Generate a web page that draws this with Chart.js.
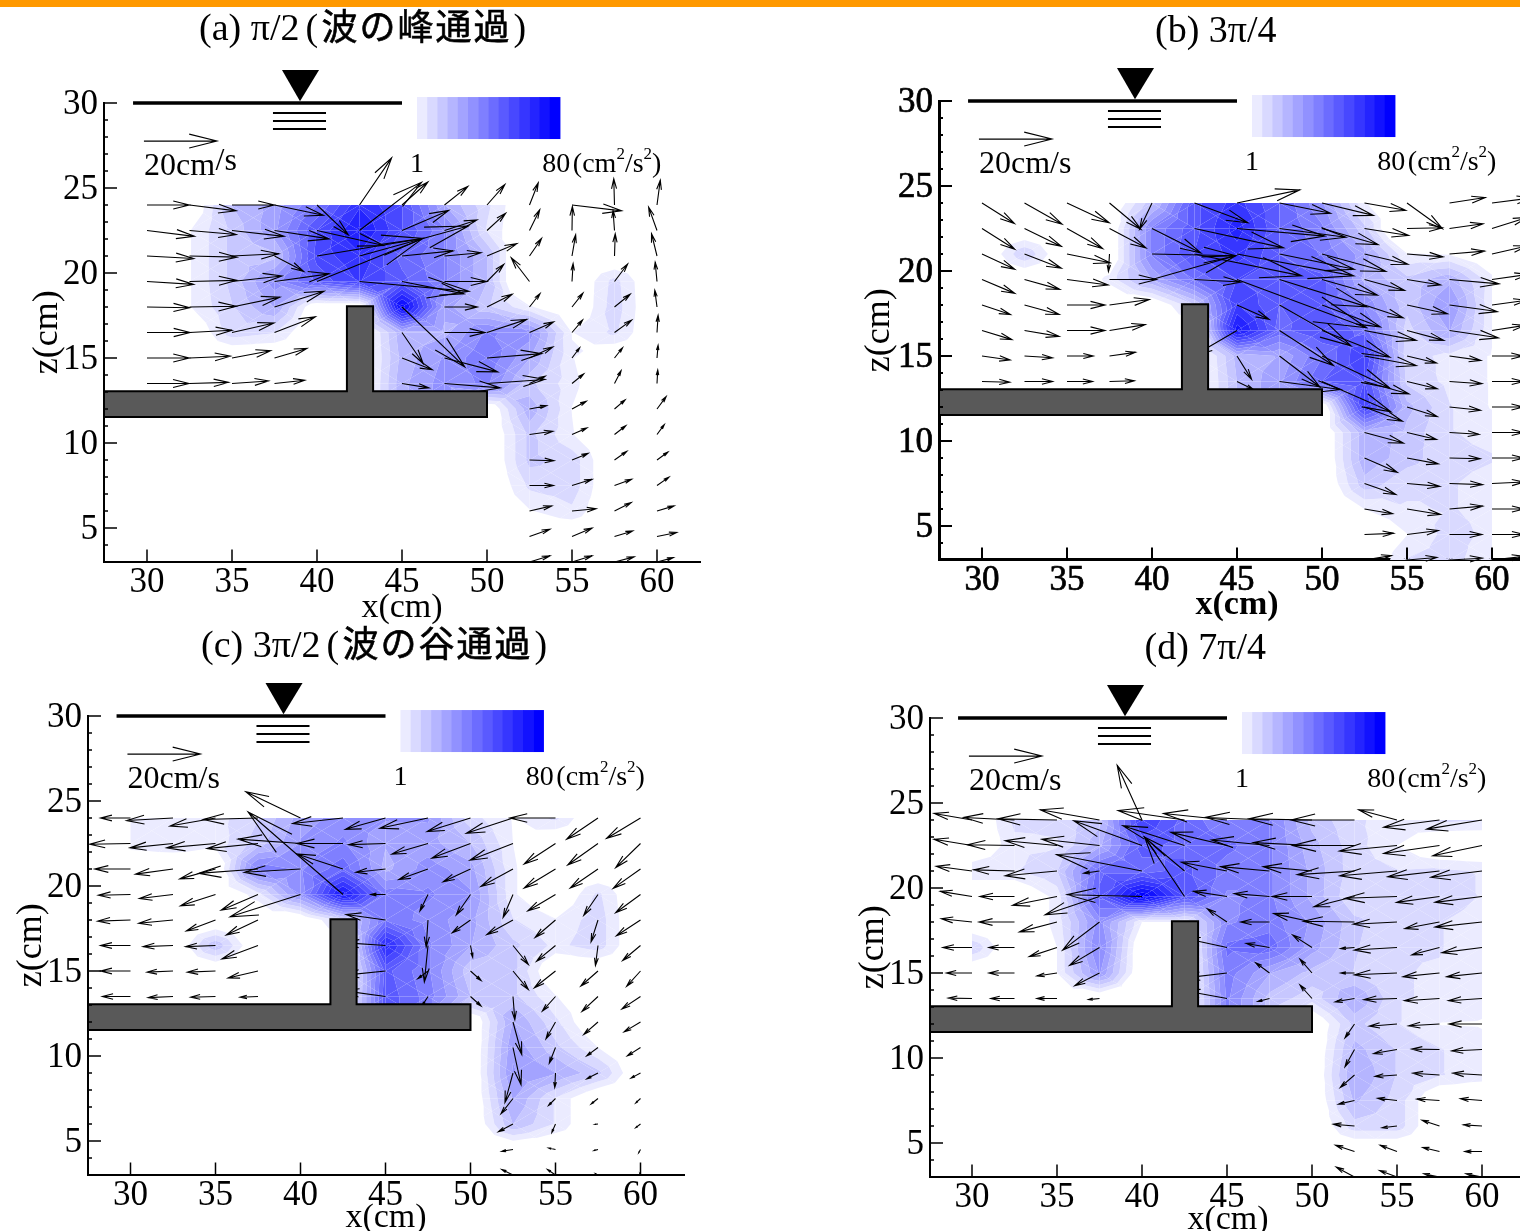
<!DOCTYPE html>
<html>
<head>
<meta charset="utf-8">
<style>
  html, body { margin: 0; padding: 0; background: #fff; overflow: hidden; width: 1520px; height: 1231px; }
  #bar { position: absolute; left: 0; top: 0; width: 1520px; height: 7px; background: #ff9900; }
  canvas { position: absolute; }
</style>
<script src="https://cdn.jsdelivr.net/npm/chart.js"></script>
</head>
<body>
<div id="bar"></div>
<script>
const _ = null;
const xCols = [30, 32.5, 35, 37.5, 40, 42.5, 45, 47.5, 50, 52.5, 55, 57.5, 60];
const zRows = [24, 22.5, 21, 19.5, 18, 16.5, 15, 13.5, 12, 10.5, 9, 7.5, 6, 4.5, 3];
const xTicks = [30, 35, 40, 45, 50, 55, 60];
const zTicks = [5, 10, 15, 20, 25, 30];
const kLevels = [1, 6.6, 12.3, 17.9, 23.6, 29.2, 34.9, 40.5, 46.1, 51.8, 57.4, 63, 68.7, 74.4, 80];
const kShades = [235, 217, 199, 181, 163, 145, 127, 108, 90, 72, 54, 36, 18, 0];
const emptyK = -8; // nodes read as 0 sit under the lowest level, edge falls inside the cell
const vScale = 0.2147; // cm on the plot per cm/s, 20 cm/s arrow is 73px

// (a) turbulence energy, rows top to bottom (z=24..3), columns x=30..60
// a few negatives are only there to pull a tight contour edge back into its cell
const kA = [
  [0, 0, 18, 26, 40, 62, 52, 24, 8, 0, 0, 0, 0],
  [0, 0.5, 14, 28, 52, 70, 52, 36, 6, 0, 0, 0, 0],
  [0, 0.5, 14, 16, 54, 62, 44, 36, 18, -20, 0, 0, 0],
  [0, 0.5, 14, 32, 48, 58, 48, 36, 18, -20, 0, 9, 0],
  [0, 0.5, 12, 24, 0, 0, 78, 26, 14, 2, 0, 10, 0],
  [0, 0, 10, 7, 0, 0, 22, 22, 36, 32, 0.8, 8, 0],
  [0, 0, 0, 0, 0, 0, 20, 30, 40, 24, 1.5, 0, 0],
  [0, 0, 0, 0, 0, 0, 22, 32, 36, 14, 3, 0, 0],
  [0, 0, 0, 0, 0, 0, 22, 32, 0, 22, 0.8, 0, 0],
  [_, _, _, _, _, _, _, _, 0, 14, 1.5, 0, 0],
  [_, _, _, _, _, _, _, _, 0, 14, 10, 0, 0],
  [_, _, _, _, _, _, _, _, 0, 8, 10, 0, 0],
  [_, _, _, _, _, _, _, _, 0, 0.5, 5.5, 0, 0],
  [_, _, _, _, _, _, _, _, 0, 0, 0, 0, 0],
  [_, _, _, _, _, _, _, _, 0, 0, 0, 0, 0]
];
const uA = [
  [11.6, 12.8, 11.6, 13.4, 8.6, 8.8, 7.1, 6.4, 4.9, 2.4, 13.6, -0.2, 0.9],
  [13, 12.8, 14.3, 15, 18.3, 17, 12.8, 8.9, 5.1, 2.8, 0.1, -0.4, -2.3],
  [12.8, 13, 12.8, 8, 29, 29.8, 14, 10, 8.2, 3.3, 1, 0.2, -1.5],
  [12.8, 13, 13.7, 15, 29, 30, 17, 11.6, 4.6, -5, 0.3, 3.6, -0.5],
  [11.7, 12.8, 13.1, 13.6, _, _, 17.2, 9, 6.9, 2.9, 3, 4.3, -0.6],
  [11.8, 11.6, 11.5, 11.2, _, _, 5.8, 11.1, 10.9, 6.6, 2.9, 4.7, 0.3],
  [11.6, 11.2, 10.6, 8.9, _, _, 8.3, 14.6, 15, 6.4, 2.1, 2.2, 0.3],
  [11.5, 10.7, 10, 8.3, _, _, 7.4, 15.3, 15.9, 4.3, 3.2, 1.8, 0.2],
  [_, _, _, _, _, _, _, _, _, 4.7, 3.9, 2.9, 2.5],
  [_, _, _, _, _, _, _, _, _, 6.4, 4.1, 3.1, 2],
  [_, _, _, _, _, _, _, _, _, 6.7, 4.4, 3.4, 3],
  [_, _, _, _, _, _, _, _, _, 6.6, 5.5, 4.7, 3.3],
  [_, _, _, _, _, _, _, _, _, 6.1, 6.6, 4.6, 4.7],
  [_, _, _, _, _, _, _, _, _, 5.6, 5.5, 5, 5.4],
  [_, _, _, _, _, _, _, _, _, 5.6, 5.5, 5.4, 4.5]
];
const wA = [
  [0, -1.6, 0, -2.8, -8.2, 12.9, 6.3, 5.1, 5.6, 6.1, -1.6, 7.2, 6.8],
  [-1.6, -1.1, -1.6, -2.3, -4.1, 13.2, 5.5, 2.9, 4.7, 5.7, 6.6, 5.5, 6.4],
  [-0.7, -0.3, 0.6, -4.2, 4.8, 8.2, 1.4, 0.9, 3.4, 4.8, 5.8, 6.1, 6.1],
  [-0.8, 0.3, 1.5, 2.1, 11.8, -2.7, -3.4, 0, 4.7, 6.5, 4.9, 4.8, 5.3],
  [-0.2, 0.2, 2.7, 4.3, _, _, -16.4, 0, 3.5, 3.7, 3.8, 3.5, 4.6],
  [0, 0.6, 2.6, 4.3, _, _, -8.5, 0, 3.6, 2.9, 3.4, 3.4, 4.7],
  [0, 0.5, 2, 2.6, _, _, -3.2, -3.8, 1.2, 3, 2.8, 2.8, 3.5],
  [0, 0.3, 0.7, 0.9, _, _, -1.2, -1.2, 1.1, 2, 2.6, 3.5, 3.7],
  [_, _, _, _, _, _, _, _, _, 0.9, 2.1, 2.5, 3.4],
  [_, _, _, _, _, _, _, _, _, 0.9, 1.8, 2.4, 2.7],
  [_, _, _, _, _, _, _, _, _, -0.2, 1.8, 2.4, 2.2],
  [_, _, _, _, _, _, _, _, _, 0, 1.7, 1.7, 2.3],
  [_, _, _, _, _, _, _, _, _, 1.4, 0.6, 2.3, 1.4],
  [_, _, _, _, _, _, _, _, _, 2, 2.3, 1.5, 1.1],
  [_, _, _, _, _, _, _, _, _, 1.7, 1.7, 1.4, 1.2]
];

// (b)
const kB = [
  [0, 0, 0, 0, 16, 50, 60, 46, 30, 2, 0, 0, 0],
  [0, 0, 0, 0, 36, 50, 66, 46, 36, 14, -20, 0, 0],
  [0, 12, 0, 0, 36, 52, 60, 46, 40, 26, 1.5, 0.5, 0],
  [0, 0, 0, 3, 24, 42, 52, 50, 48, 22, 14, 22, 3],
  [0, 0, 0, 0, 0, 12, 58, 46, 48, 34, 14, 30, 2],
  [0, 0, 0, 0, 0, 0, 72, 44, 52, 44, 10, 24, 2],
  [0, 0, 0, 0, 0, 0, 20, 24, 40, 58, 9, 5, 0.5],
  [0, 0, 0, 0, 0, 0, 18, 28, 46, 52, 11, 5, 0.5],
  [0, 0, 0, 0, 0, 0, 18, 28, 0, 58, 20, 7, 0.5],
  [_, _, _, _, _, _, _, _, 0, 22, 16, 7, 5],
  [_, _, _, _, _, _, _, _, 0, 22, 15, 8, 7],
  [_, _, _, _, _, _, _, _, 0, 16, 8, 7, 5],
  [_, _, _, _, _, _, _, _, 0, 1, 6, 7, 5],
  [_, _, _, _, _, _, _, _, 0, 0, 0.8, 9, 5],
  [_, _, _, _, _, _, _, _, 0, 0, 7, 9, 2]
];
const uB = [
  [8.9, 10.3, 11.6, 8.6, -3.4, 14.6, 17.2, 14, 14.1, 11.3, 9.7, 9.8, 11],
  [9, 10.1, 9.8, 10, 13.4, 24.4, 24.1, 18.2, 15.4, 12.1, 9.7, 9.2, 9.6],
  [9, 10.1, 11.8, -0.3, 22.9, 29.4, 32, 20.5, 17.5, 11.9, 9.9, 9.6, 9.6],
  [9, 9.7, 11.3, 12.9, 22.9, 12.7, 35.5, 24, 15.2, 11, 9.2, 13.6, 10],
  [7.8, 9.5, 10.4, 10.9, _, _, 8.8, 19.6, 16, 10.6, 11.1, 13.1, 9.5],
  [8.2, 9.5, 10.4, 9.8, _, _, -12, 14.8, 18.6, 14.2, 10.1, 13.4, 9],
  [7.7, 7.7, 7.2, 7.1, _, _, 4, 11.1, 18.6, 14.2, 8.1, 8.6, 8.5],
  [7.6, 7.7, 7, 6.8, _, _, 4.5, 16.8, 18.9, 12.2, 8.3, 8.9, 8.7],
  [_, _, _, _, _, _, _, _, _, 10.4, 8.3, 8.5, 8.6],
  [_, _, _, _, _, _, _, _, _, 10.7, 8.1, 8.1, 8.7],
  [_, _, _, _, _, _, _, _, _, 9, 8.6, 8.4, 8.8],
  [_, _, _, _, _, _, _, _, _, 8.6, 9, 9.1, 8.8],
  [_, _, _, _, _, _, _, _, _, 7.7, 9.2, 9.1, 8.8],
  [_, _, _, _, _, _, _, _, _, 8, 8.6, 8.9, 8.8],
  [_, _, _, _, _, _, _, _, _, 7.4, 8.2, 9, 8.8]
];
const wB = [
  [-5.6, -5.8, -5.4, -7.2, -7.2, -5.4, 3.6, -2.8, -3.4, -2, -7, 1.5, 1.4],
  [-5.7, -4.9, -5.5, -5.3, -6.7, -5.3, -2.1, -2.4, -4.4, -1.9, 0.2, 1.3, 3],
  [-4.2, -3.9, -2.4, -4.8, -0.5, -6, -6, -4.2, -4.8, -2.8, -0.8, 0.8, 2.2],
  [-3.8, -2.7, -1.5, 0, 6.5, -0.7, -13.2, -7.5, -4.3, -3, -1.5, -1.2, 1.4],
  [-2.6, -2.6, 0, 1.5, _, _, -3.9, -11.2, -6, -3.5, -2.4, -1.8, 1.3],
  [-2.5, -1.6, 0, 1.6, _, _, -7, -9.6, -7.3, -2.7, -2.7, -2, 1.4],
  [-1.1, -0.5, 0, 1, _, _, -6.4, -8.5, -8.8, -2.6, -1.9, -1.2, 0],
  [-0.2, 0, 0, 0.2, _, _, -2.2, -2.2, -8.3, -3.4, -2, -0.6, 0],
  [_, _, _, _, _, _, _, _, _, -3.9, -2.6, -0.9, 0],
  [_, _, _, _, _, _, _, _, _, -2.9, -1.9, -0.5, 0],
  [_, _, _, _, _, _, _, _, _, -3.9, -1.6, -0.2, 0],
  [_, _, _, _, _, _, _, _, _, -3, -0.8, -0.3, 0.4],
  [_, _, _, _, _, _, _, _, _, -1.3, -1.5, 0.8, 0],
  [_, _, _, _, _, _, _, _, _, 0.3, 1.1, 0, 0],
  [_, _, _, _, _, _, _, _, _, 1.2, 0.7, 0.5, 1]
];

// (c)
const kC = [
  [4, 4, 4, 12, 26, 32, 30, 30, 9, 0.5, 8, 0, 0],
  [4, 6, 3, 15, 30, 36, 24, 26, 18, 1, 0, 0, 0],
  [0, 0, 0, 38, 34, 44, 22, 32, 26, 2, 0, 0, 0],
  [0, 0, 0, 4, 32, 72, 38, 36, 30, 2, 0, 8, 0],
  [0, 0, 0, 0, 0, 10, 40, 32, 26, 7, 1.5, 10, 0],
  [0, 0, 17, 0, 0, 0, 66, 36, 24, 14, 5, 10, 0],
  [0, 0, 0, 0, 0, 0, 48, 36, 14, 14, 0, 0, 0],
  [0, 0, 0, 0, 0, 0, 50, 38, 18, 14, 1.5, 0, 0],
  [0, 0, 0, 0, 0, 0, 50, 38, 0, 24, 8, 0, 0],
  [_, _, _, _, _, _, _, _, 0, 28, 14, 1, 0],
  [_, _, _, _, _, _, _, _, 0, 30, 24, 14, 0],
  [_, _, _, _, _, _, _, _, 0, 24, 6, 0, 0],
  [_, _, _, _, _, _, _, _, 0, 18, 6, 0, 0],
  [_, _, _, _, _, _, _, _, 0, 0, 0, 0, 0],
  [_, _, _, _, _, _, _, _, 0, 0, 0, 0, 0]
];
const uC = [
  [-8.2, -12.7, -12.5, -15, -15, -13.8, -11, -13.2, -11.9, -12.8, -12.5, -8.6, -9.3],
  [-11.2, -11.8, -13.4, -14, -17.1, -12.6, -10.1, -9.9, -10.6, -11.8, -8.6, -8.3, -6.8],
  [-9.8, -10.3, -9.8, -16.3, -15.4, -12.6, -8.1, -8, -7.5, -8.8, -8.6, -7.6, -7.5],
  [-8.8, -9.2, -9.6, -10.1, -19.3, -26, -4, -2.2, -3.9, -2.7, -7.6, -3.9, -6.8],
  [-9, -9.4, -8, -8.7, _, _, -10.8, -0.5, -5, -7.2, -5.6, -1.9, -6.6],
  [-8.2, -8.2, -8.2, -9.9, _, _, -11.7, -1, 0.6, 4.2, -5.2, -0.7, -4.9],
  [-8.2, -7.1, -7.7, -8.2, _, _, -11.7, -2.8, 2.9, 4.2, -5.8, -4.7, -3.8],
  [-7.7, -6.8, -6.8, -4.9, _, _, -11.7, -1.6, 2.9, 0.5, -3.6, -4.4, -5.1],
  [_, _, _, _, _, _, _, _, _, 2.4, -2.6, -3.9, -4.5],
  [_, _, _, _, _, _, _, _, _, 2.2, -1.7, -3.1, -3.6],
  [_, _, _, _, _, _, _, _, _, -2.2, -0.2, -3.1, -2.6],
  [_, _, _, _, _, _, _, _, _, -3.3, -1.9, -1.9, -1.3],
  [_, _, _, _, _, _, _, _, _, -4, -1, -0.9, -1.3],
  [_, _, _, _, _, _, _, _, _, -3.1, -1.9, -1.1, -0.5],
  [_, _, _, _, _, _, _, _, _, -3.1, -2.2, -0.7, -0.2]
];
const wC = [
  [0, -0.7, -2.2, -0.4, 7.2, -1.5, -3.1, -2.8, -3.7, -4.2, 0, -5.8, -5.6],
  [-0.2, -1.2, -1.2, -1.4, 1.2, 0, -0.3, -2.9, -4, -4.6, -5.6, -5.9, -6.6],
  [0, -1.4, -2.7, -1.2, -0.9, 4.1, -0.9, -2.9, -3.5, -4.8, -5.2, -5.2, -5.3],
  [-0.2, -1.1, -3.1, -4.3, -6.1, 22.6, 0, -4.5, -5.6, -6.3, -4.5, -5.7, -5],
  [-0.3, -0.9, -3, -4.1, _, _, 1.5, -7.4, -3.5, -4, -4.8, -6, -4.3],
  [0, -0.3, -0.3, -3.7, _, _, 0.8, -10, -3.2, -5.2, -4.3, -5.5, -4.1],
  [0, -0.3, -0.3, -1.9, _, _, -1.2, -2.1, -2.6, -5.1, -4.6, -4.1, -4.2],
  [0, -0.3, -0.2, -0.2, _, _, 1.6, -2.5, -2.6, -6.4, -4, -4.1, -3.4],
  [_, _, _, _, _, _, _, _, _, -8.9, -4.6, -3.4, -2.7],
  [_, _, _, _, _, _, _, _, _, -10.2, -4.3, -2.3, -2.3],
  [_, _, _, _, _, _, _, _, _, -8.1, -4, -1.6, -1.4],
  [_, _, _, _, _, _, _, _, _, -4.2, -1.9, -1.5, -1.2],
  [_, _, _, _, _, _, _, _, _, -2.1, -2.3, -0.1, -1],
  [_, _, _, _, _, _, _, _, _, -0.5, 0.4, -0.3, -0.9],
  [_, _, _, _, _, _, _, _, _, 1.5, 1.5, 0.4, 0.4]
];

// (d)
const kD = [
  [0, 8, 8, 16, 58, 44, 36, 36, 16, 8, 3, 8, 7],
  [0, 5, 6, 22, 48, 44, 42, 36, 20, 9, 1, 0, 0],
  [6, 6, 12, 44, 44, 48, 38, 36, 22, 9, 7, 8, 6],
  [0, 0, 3, 48, 80, 52, 34, 36, 22, 7, 7, 12, 6],
  [0, 0, 3, 32, 1, 1, 34, 38, 28, 14, 7, 7, 3],
  [12, 0, 1, 36, 0, 0, 42, 44, 26, 13, 7, 7, 3],
  [0, 0, 1, 30, 0, 0, 38, 24, 16, 12, 7, 6, 3],
  [0, 0, 0, 0, 0, 0, 36, 16, 9, 24, 7, 6, 3],
  [0, 0, 0, 0, 0, 0, 36, 16, 0, 14, 7, 0.8, 0.5],
  [_, _, _, _, _, _, _, _, 0, 20, 12, 7, 3],
  [_, _, _, _, _, _, _, _, 0, 24, 12, 7, 4],
  [_, _, _, _, _, _, _, _, 0, 19, 10, 0, 0],
  [_, _, _, _, _, _, _, _, 0, 10, 10, 0, 0],
  [_, _, _, _, _, _, _, _, 0, 0, 0, 0, 0],
  [_, _, _, _, _, _, _, _, 0, 0, 0, 0, 0]
];
const uD = [
  [-10.4, -13.9, -16.2, -16.2, -6.8, -18.2, -17.4, -17.6, -17.3, -17.4, -10.5, -15.3, -15.2],
  [-10.4, -12.9, -14.2, -15.8, -18.7, -16.9, -15.4, -15.9, -16.1, -17, -15.8, -15.3, -13.5],
  [-9.8, -11.2, -14.2, -4.3, -23.4, -11, -12.5, -13.4, -13.4, -15.7, -15.7, -14.2, -14],
  [-8.7, -9.5, -12.2, -14.9, -20.5, -10.9, -9.2, -9.7, -10.9, -11.1, -14.3, -11.8, -12.9],
  [-8.4, -9.7, -10.3, -10.1, _, _, -5.4, -7.9, -10.5, -14, -12, -9.5, -12.9],
  [-8, -7, -7.6, -8.2, _, _, -12, -6.4, -5.3, -3.8, -11.7, -7.6, -11],
  [-7, -7, -5.5, -6.8, _, _, -12, -3.8, -3.3, -3.8, -11.7, -10, -9.7],
  [-6.5, -6.5, -5.5, -3, _, _, -12, -3.2, -3.3, -5.3, -9.1, -9.6, -9.2],
  [_, _, _, _, _, _, _, _, _, -2.6, -7.6, -8.5, -9],
  [_, _, _, _, _, _, _, _, _, -2.6, -6.4, -7.6, -8.3],
  [_, _, _, _, _, _, _, _, _, -3.9, -6, -7.3, -8],
  [_, _, _, _, _, _, _, _, _, -4.4, -5.3, -6.2, -5.9],
  [_, _, _, _, _, _, _, _, _, -5.8, -4.1, -4.8, -5.1],
  [_, _, _, _, _, _, _, _, _, -5.2, -4.6, -4.6, -4.7],
  [_, _, _, _, _, _, _, _, _, -5, -4.8, -4.3, -4.4]
];
const wD = [
  [1.8, 0.7, 0.3, 2.8, 15, 2.6, 1.8, 0.7, 0.3, 0, 2.8, -2, -2.5],
  [1.7, 0.2, 1.3, 1.7, 6.8, 5.4, 3.6, 1.5, 0.8, 0, -1.5, -2.2, -2.8],
  [1.3, 0.3, -1.3, -0.6, 4.5, 9.3, 2.4, 1.2, 1.2, -1, -1.3, -1.6, -1.7],
  [1.4, 0, -2.4, -5, 0.5, 16.2, 1.4, 0.8, 0, -2.8, -0.5, -1.6, -1.6],
  [0.9, 0, -2.7, -7.7, _, _, 3.6, 0, 2.3, 0.2, -0.6, -1.8, -1.4],
  [0, 0, -2.5, -4.9, _, _, 2.6, 1.1, 3.4, -0.3, -0.7, -2, -1.4],
  [0, 0, -0.8, -3.5, _, _, -1.4, 2.8, 3.8, 0, -0.5, -1, -1],
  [0.1, 0, 0, -0.3, _, _, 2.2, -0.8, 3.7, -0.9, -0.3, -0.6, -0.6],
  [_, _, _, _, _, _, _, _, _, -3.8, -0.6, -0.5, 0],
  [_, _, _, _, _, _, _, _, _, -4.7, -1.1, 0.1, -0.4],
  [_, _, _, _, _, _, _, _, _, -3.4, -0.4, 0.5, 0.5],
  [_, _, _, _, _, _, _, _, _, -1, 0.6, 0.4, 0.5],
  [_, _, _, _, _, _, _, _, _, 0.5, -0.5, 1.6, 0.3],
  [_, _, _, _, _, _, _, _, _, 1.7, 1.7, 1.1, 0],
  [_, _, _, _, _, _, _, _, _, 2.7, 1.8, 0.9, 0.9]
];

// breakwater outline and the water level marks, in cm
const wallX = [27, 41.76, 41.76, 43.3, 43.3, 50, 50, 27, 27];
const wallZ = [13.05, 13.05, 18.05, 18.05, 13.05, 13.05, 11.53, 11.53, 13.05];
const waterX = [29.18, 45];
const waterZ = [30, 30];
const ripplesX = [37.41, 40.53];
const ripplesZ = [29.41, 28.94, 28.47];
const markerX = [37.94, 40.12, 39];
const markerZ = [31.94, 31.94, 30.1];

const panels = [
  { tag: '(a) π/2', jp: '波の峰通過', titleX: 33.06, titleZ: 33.7, k: kA, u: uA, w: wA, x30: 147, axisL: 104, axisT: 103, axisR: 700, axisB: 561.5, cL: 0, cT: 8, cW: 720, xTitle: 44.5, zTitle: 56, split: true, heavy: false },
  { tag: '(b) 3π/4', jp: '', titleX: 40.18, titleZ: 33.5, k: kB, u: uB, w: wB, x30: 982, axisL: 939, axisT: 101, axisR: 1535, axisB: 559.5, cL: 820, cT: 8, cW: 715, xTitle: 43.5, zTitle: 59, split: false, heavy: true },
  { tag: '(c) 3π/2', jp: '波の谷通過', titleX: 34.15, titleZ: 33.5, k: kC, u: uC, w: wC, x30: 130.5, axisL: 88, axisT: 716, axisR: 684, axisB: 1174.5, cL: 0, cT: 620, cW: 720, xTitle: 41.5, zTitle: 56, split: false, heavy: false },
  { tag: '(d) 7π/4', jp: '', titleX: 40.15, titleZ: 33.5, k: kD, u: uD, w: wD, x30: 972, axisL: 930, axisT: 718, axisR: 1526, axisB: 1176.5, cL: 820, cT: 620, cW: 706, xTitle: 41.5, zTitle: 56, split: false, heavy: false }
];

const serif = '"Liberation Serif", serif';
const canvasH = 625;
const pxPerCm = 17;

// keep the part of a triangle on one side of a k level
function clipK(poly, level, keepAbove) {
  const out = [];
  for (let i = 0; i < poly.length; i++) {
    const a = poly[i], b = poly[(i + 1) % poly.length];
    const ina = keepAbove ? a.k >= level : a.k <= level;
    const inb = keepAbove ? b.k >= level : b.k <= level;
    if (ina) out.push(a);
    if (ina !== inb) {
      const t = (level - a.k) / (b.k - a.k);
      out.push({ x: a.x + (b.x - a.x) * t, y: a.y + (b.y - a.y) * t, k: level });
    }
  }
  return out;
}

function drawContours(ctx, p, sx, sz) {
  for (let r = 0; r < zRows.length - 1; r++) {
    for (let c = 0; c < xCols.length - 1; c++) {
      const raw = [p.k[r][c], p.k[r][c + 1], p.k[r + 1][c + 1], p.k[r + 1][c]];
      if (raw.some(v => v === null)) continue;
      const vals = raw.map(v => (v === 0 ? emptyK : v));
      const X = [xCols[c], xCols[c + 1], xCols[c + 1], xCols[c]].map(v => sx.getPixelForValue(v));
      const Y = [zRows[r], zRows[r], zRows[r + 1], zRows[r + 1]].map(v => sz.getPixelForValue(v));
      const mid = {
        x: (X[0] + X[1]) / 2, y: (Y[0] + Y[2]) / 2,
        k: (vals[0] + vals[1] + vals[2] + vals[3]) / 4
      };
      for (let i = 0; i < 4; i++) {
        const j = (i + 1) % 4;
        const tri = [{ x: X[i], y: Y[i], k: vals[i] }, { x: X[j], y: Y[j], k: vals[j] }, mid];
        for (let b = 0; b < kShades.length; b++) {
          let poly = clipK(tri, kLevels[b], true);
          if (b < kShades.length - 1) poly = clipK(poly, kLevels[b + 1], false);
          if (poly.length < 3) continue;
          const s = kShades[b];
          ctx.fillStyle = `rgb(${s},${s},255)`;
          ctx.beginPath();
          poly.forEach((q, n) => n ? ctx.lineTo(q.x, q.y) : ctx.moveTo(q.x, q.y));
          ctx.closePath();
          ctx.fill();
        }
      }
    }
  }
}

function arrow(ctx, x0, y0, x1, y1) {
  const dx = x1 - x0, dy = y1 - y0;
  ctx.beginPath();
  ctx.moveTo(x0, y0);
  ctx.lineTo(x1, y1);
  ctx.moveTo(x1 - dx * 0.38 + dy * 0.095, y1 - dy * 0.38 - dx * 0.095);
  ctx.lineTo(x1, y1);
  ctx.lineTo(x1 - dx * 0.38 - dy * 0.095, y1 - dy * 0.38 + dx * 0.095);
  ctx.stroke();
}

function drawArrows(ctx, p, sx, sz) {
  ctx.strokeStyle = '#000';
  ctx.lineWidth = 1.1;
  zRows.forEach((z, r) => xCols.forEach((x, c) => {
    if (p.u[r][c] === null) return;
    arrow(ctx, sx.getPixelForValue(x), sz.getPixelForValue(z),
      sx.getPixelForValue(x + p.u[r][c] * vScale), sz.getPixelForValue(z + p.w[r][c] * vScale));
  }));
}

function drawTicks(ctx, p, sx, sz) {
  ctx.strokeStyle = '#000';
  ctx.lineWidth = p.heavy ? 2 : 1.5;
  const ax = sx.getPixelForValue(sx.min);
  ctx.beginPath();
  for (let v = 4; v <= 30; v++) {
    const y = sz.getPixelForValue(v);
    ctx.moveTo(ax, y);
    ctx.lineTo(ax + (zTicks.includes(v) ? 13 : 4), y);
  }
  xTicks.forEach(v => {
    const x = sx.getPixelForValue(v);
    ctx.moveTo(x, sz.bottom);
    ctx.lineTo(x, sz.bottom - 12);
  });
  ctx.stroke();
}

function drawNotes(ctx, p, sx, sz) {
  const X = v => sx.getPixelForValue(v), Z = v => sz.getPixelForValue(v);
  ctx.fillStyle = '#000';
  ctx.textBaseline = 'alphabetic';
  ctx.textAlign = 'left';
  // title
  let tx = X(p.titleX);
  const ty = Z(p.titleZ);
  ctx.font = `38px ${serif}`;
  ctx.fillText(p.tag, tx, ty);
  if (p.jp) {
    tx += ctx.measureText(p.tag).width + 6;
    ctx.fillText('(', tx, ty);
    ctx.font = '400 36px "Noto Sans CJK JP"';
    ctx.letterSpacing = '2px';
    ctx.fillText(p.jp, tx + 16, ty);
    ctx.lineWidth = 0.6;
    ctx.strokeStyle = '#000';
    ctx.strokeText(p.jp, tx + 16, ty);
    const w = ctx.measureText(p.jp).width;
    ctx.letterSpacing = '0px';
    ctx.font = `38px ${serif}`;
    ctx.fillText(')', tx + 16 + w + 2, ty);
  }
  // water level marker
  ctx.beginPath();
  markerX.forEach((v, i) => i ? ctx.lineTo(X(v), Z(markerZ[i])) : ctx.moveTo(X(v), Z(markerZ[i])));
  ctx.closePath();
  ctx.fill();
  // colour bar
  const barX0 = 45.88, barW = 8.41 / kShades.length;
  kShades.forEach((s, i) => {
    ctx.fillStyle = `rgb(${s},${s},255)`;
    ctx.fillRect(X(barX0 + i * barW), Z(30.35), X(barX0 + (i + 1) * barW) - X(barX0 + i * barW) + 0.5, Z(27.88) - Z(30.35));
  });
  ctx.fillStyle = '#000';
  ctx.font = `28px ${serif}`;
  ctx.textAlign = 'center';
  ctx.fillText('1', X(45.88), Z(25.94));
  ctx.textAlign = 'left';
  ctx.fillText('80', X(53.25), Z(25.94));
  const ux = X(55.05), uy = Z(25.94);
  ctx.fillText('(cm', ux, uy);
  let ox = ctx.measureText('(cm').width;
  ctx.font = `17px ${serif}`;
  ctx.fillText('2', ux + ox, uy - 13);
  ox += ctx.measureText('2').width;
  ctx.font = `28px ${serif}`;
  ctx.fillText('/s', ux + ox, uy);
  ox += ctx.measureText('/s').width;
  ctx.font = `17px ${serif}`;
  ctx.fillText('2', ux + ox, uy - 13);
  ox += ctx.measureText('2').width;
  ctx.font = `28px ${serif}`;
  ctx.fillText(')', ux + ox, uy);
  // 20 cm/s reference arrow
  ctx.strokeStyle = '#000';
  ctx.lineWidth = 1.1;
  arrow(ctx, X(29.82), Z(27.76), X(29.82 + 20 * vScale), Z(27.76));
  ctx.font = `32px ${serif}`;
  if (p.split) {
    ctx.fillText('20cm', X(29.82), Z(25.76));
    ctx.fillText('/s', X(34.03), Z(26.05));
  } else {
    ctx.fillText('20cm/s', X(29.82), Z(25.76));
  }
}

panels.forEach(p => {
  const canvas = document.createElement('canvas');
  canvas.width = p.cW;
  canvas.height = canvasH;
  canvas.style.left = p.cL + 'px';
  canvas.style.top = p.cT + 'px';
  canvas.style.width = p.cW + 'px';
  canvas.style.height = canvasH + 'px';
  document.body.appendChild(canvas);

  const xMin = 30 - (p.x30 - p.axisL) / pxPerCm;
  const xMax = 30 + (p.axisR - p.x30) / pxPerCm;
  const zMin = 30 - (p.axisB - p.axisT) / pxPerCm;
  const hBox = p.xTitle + 19;

  const line = (xs, zs, width) => ({
    data: xs.map((x, i) => ({ x: Math.max(x, xMin), y: zs[i] })),
    showLine: true, borderColor: '#000', borderWidth: width, pointRadius: 0, clip: false
  });

  const field = {
    id: 'field',
    beforeDatasetsDraw(chart) {
      const { ctx, scales } = chart;
      ctx.save();
      drawContours(ctx, p, scales.x, scales.y);
      drawArrows(ctx, p, scales.x, scales.y);
      ctx.restore();
    },
    afterDatasetsDraw(chart) {
      const { ctx, scales } = chart;
      ctx.save();
      drawTicks(ctx, p, scales.x, scales.y);
      drawNotes(ctx, p, scales.x, scales.y);
      ctx.restore();
    }
  };

  new Chart(canvas.getContext('2d'), {
    type: 'scatter',
    data: {
      datasets: [
        Object.assign(line(wallX, wallZ, 2), { fill: 'shape', backgroundColor: '#595959' }),
        line(waterX, waterZ, 3.5),
        ...ripplesZ.map(z => line(ripplesX, [z, z], 2))
      ]
    },
    plugins: [field],
    options: {
      responsive: false,
      animation: false,
      devicePixelRatio: 1,
      layout: {
        padding: {
          left: 0,
          top: p.axisT - p.cT,
          right: p.cL + p.cW - p.axisR,
          bottom: canvasH - (p.axisB - p.cT) - hBox
        }
      },
      plugins: { legend: { display: false }, tooltip: { enabled: false }, title: { display: false } },
      scales: {
        x: {
          type: 'linear', min: xMin, max: xMax,
          afterBuildTicks: s => { s.ticks = xTicks.map(value => ({ value })); },
          afterFit: s => { s.height = hBox; },
          grid: { drawOnChartArea: false, drawTicks: false },
          border: { display: true, color: '#000', width: p.heavy ? 3 : 2 },
          ticks: {
            padding: 4, maxRotation: 0, autoSkip: false, color: '#000',
            font: { family: serif, size: 35, lineHeight: 1 },
            textStrokeWidth: p.heavy ? 0.7 : 0, textStrokeColor: '#000'
          },
          title: {
            display: true, text: 'x(cm)', color: '#000',
            font: { family: serif, size: 34, lineHeight: 1, weight: p.heavy ? 'bold' : 'normal' },
            padding: { top: 0, bottom: 0 }
          }
        },
        y: {
          type: 'linear', min: zMin, max: 30,
          afterBuildTicks: s => { s.ticks = zTicks.map(value => ({ value })); },
          afterFit: s => { s.width = p.axisL - p.cL; },
          grid: { drawOnChartArea: false, drawTicks: false },
          border: { display: true, color: '#000', width: p.heavy ? 3 : 2 },
          ticks: {
            padding: 6, labelOffset: 2, color: '#000',
            font: { family: serif, size: 35, lineHeight: 1 },
            textStrokeWidth: p.heavy ? 0.7 : 0, textStrokeColor: '#000'
          },
          title: {
            display: true, text: 'z(cm)', color: '#000',
            font: { family: serif, size: 36, lineHeight: 1 },
            padding: { top: p.axisL - p.cL - p.zTitle - 18, bottom: 0 }
          }
        }
      }
    }
  });
});
</script>
</body>
</html>
